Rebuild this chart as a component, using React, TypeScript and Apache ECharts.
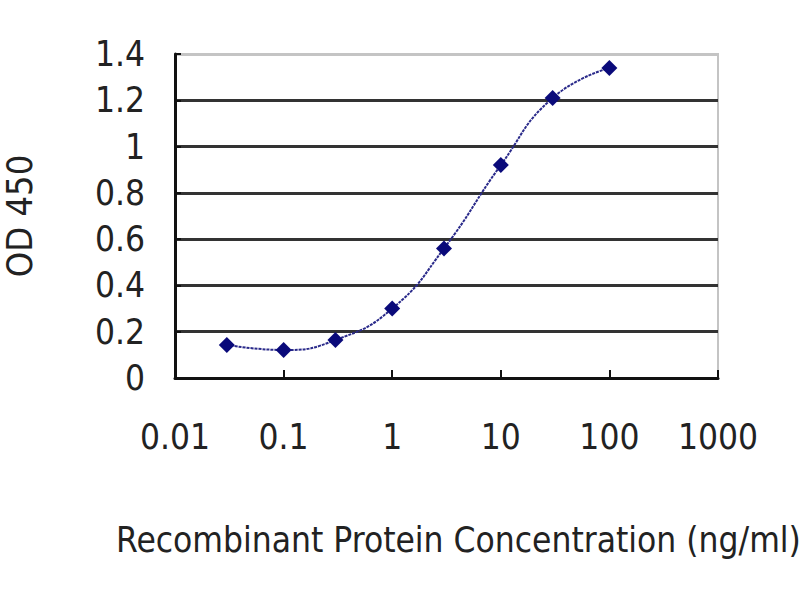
import React, { useEffect, useRef } from "react";
import * as echarts from "echarts";

const concentrations = [0.03, 0.1, 0.3, 1, 3, 10, 30, 100];
const odValues = [0.143, 0.121, 0.164, 0.3, 0.56, 0.92, 1.21, 1.34];
const xTickLabels = ["0.01", "0.1", "1", "10", "100", "1000"];
const yAxisName = "OD 450";
const xAxisName = "Recombinant Protein Concentration (ng/ml)";

const FONT = "'Liberation Sans Narrow', 'DejaVu Sans Condensed', 'Liberation Sans', sans-serif";

export default function App() {
  const ref = useRef<HTMLDivElement>(null);
  useEffect(() => {
    if (!ref.current) return;
    const chart = echarts.init(ref.current, undefined, { renderer: "svg" });
    const data = concentrations.map((c, i) => [c, odValues[i]]);
    chart.setOption({
      animation: false,
      backgroundColor: "#ffffff",
      grid: {
        left: 175,
        right: 82,
        top: 54,
        bottom: 222,
        containLabel: false,
        outerBoundsMode: "none",
        show: true,
        borderColor: "#c4c4c4",
        borderWidth: 2,
        backgroundColor: "transparent",
      },
      xAxis: {
        type: "log",
        logBase: 10,
        min: 0.01,
        max: 1000,
        name: xAxisName,
        nameLocation: "middle",
        nameGap: 144,
        nameTextStyle: { fontSize: 35, color: "#222", fontFamily: FONT, padding: [0, 0, 0, 24] },
        axisLine: { show: true, lineStyle: { color: "#111", width: 3 } },
        axisTick: { show: true, inside: true, length: 8, lineStyle: { color: "#111", width: 2 } },
        minorTick: { show: false },
        splitLine: { show: false },
        axisLabel: {
          margin: 41,
          fontSize: 35,
          color: "#222",
          fontFamily: FONT,
          formatter: (v: number) => {
            const idx = Math.round(Math.log10(v)) + 2;
            return xTickLabels[idx] ?? String(v);
          },
        },
      },
      yAxis: {
        type: "value",
        min: 0,
        max: 1.4,
        interval: 0.2,
        name: yAxisName,
        nameLocation: "middle",
        nameGap: 138,
        nameTextStyle: { fontSize: 36, color: "#222", fontFamily: FONT },
        axisLine: { show: true, lineStyle: { color: "#111", width: 3 } },
        axisTick: { show: true, inside: true, length: 6, lineStyle: { color: "#111", width: 2 } },
        splitLine: {
          show: true,
          lineStyle: {
            color: ["#333", "#333", "#333", "#333", "#333", "#333", "#333", "#c4c4c4"],
            width: 3,
          },
        },
        axisLabel: {
          margin: 30,
          fontSize: 35,
          color: "#222",
          fontFamily: FONT,
        },
      },
      series: [
        {
          type: "line",
          data,
          smooth: 0.5,
          symbol: "diamond",
          symbolSize: 16,
          itemStyle: { color: "#0a0a7a" },
          lineStyle: { color: "#2a2a8a", width: 2, type: [3, 1] },
        },
      ],
    });
    return () => chart.dispose();
  }, []);
  return (
    <div
      ref={ref}
      style={{ position: "fixed", left: 0, top: 0, width: 800, height: 600 }}
    />
  );
}
